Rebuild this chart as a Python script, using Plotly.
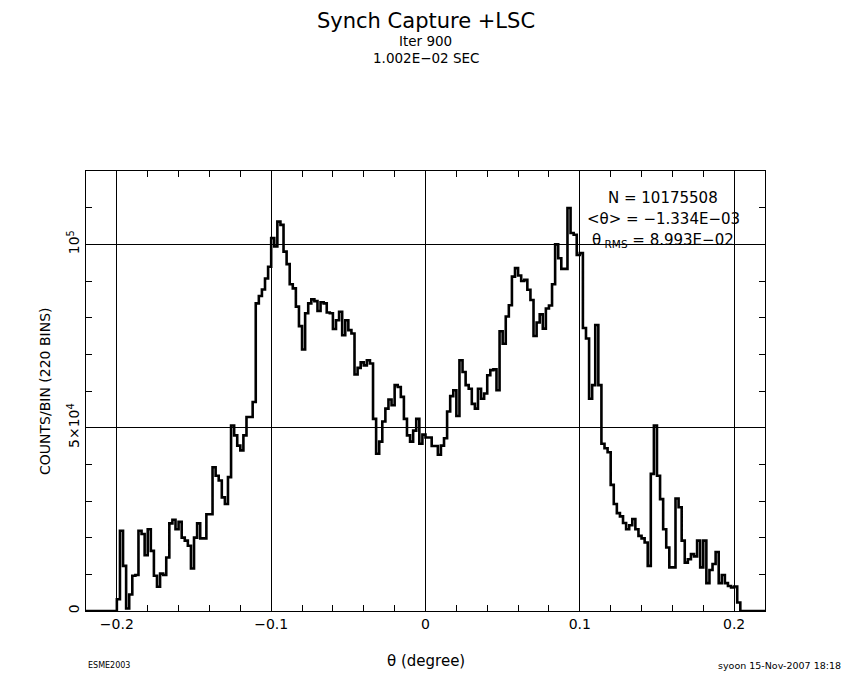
import plotly.graph_objects as go

# Histogram: 220 bins between -0.22 and 0.22 degree
theta_min = -0.22
bin_width = 0.002
counts = [
    0, 0, 0, 0, 0, 0, 0, 0, 0, 0,
    3200, 21900, 12300, 700, 4500, 9600, 9800, 21900, 21000, 15200,
    22300, 16400, 9600, 6600, 10200, 9800, 14600, 23900, 24900, 22300,
    24300, 20000, 19200, 17800, 11600, 20000, 23900, 19800, 19800, 26400,
    26400, 39200, 36900, 35600, 31000, 29200, 36500, 50600, 47900, 45100,
    43800, 47900, 52900, 52900, 57000, 83900, 85900, 87700, 90700, 93900,
    101700, 99400, 106200, 105300, 98000, 94600, 89100, 88000, 83000, 77700,
    71300, 81200, 83900, 85000, 84500, 81800, 84200, 83900, 81400, 81200,
    76900, 79300, 81600, 75200, 79300, 76600, 75700, 64500, 66300, 67800,
    67000, 68400, 67500, 52400, 42900, 46200, 51700, 55200, 57700, 56100,
    61600, 61100, 58400, 52400, 47900, 46200, 49200, 52400, 45600, 48100,
    47300, 47300, 45000, 45000, 42600, 45100, 47100, 54400, 58600, 60200,
    53200, 68400, 65200, 61600, 60600, 56500, 55200, 60600, 57900, 59300,
    64300, 65700, 65900, 60200, 76300, 72900, 80300, 83400, 91200, 93500,
    91500, 90000, 90300, 87600, 84800, 75000, 78700, 80900, 77000, 82500,
    83300, 89100, 100000, 96200, 93300, 93300, 109900, 103100, 102600, 97100,
    97600, 77200, 74300, 57900, 61600, 78000, 61600, 45600, 44400, 43300,
    34400, 29200, 26700, 25800, 24000, 22300, 23400, 25100, 22300, 20500,
    19800, 18700, 12300, 37400, 50600, 36900, 30500, 22300, 17300, 11900,
    11900, 30700, 28300, 19200, 13200, 14100, 15500, 14900, 19200, 11900,
    19200, 7600, 11200, 12800, 16100, 7600, 9800, 7600, 6800, 6400,
    6700, 2300, 0, 0, 0, 0, 0, 0, 0, 0,
]

x_ticks = [-0.2, -0.1, 0, 0.1, 0.2]
x_labels = ['\u22120.2', '\u22120.1', '0', '0.1', '0.2']
y_ticks = [0, 50000, 100000]
y_labels = ['0', '5\u00d710<sup>4</sup>', '10<sup>5</sup>']

stats = ['N = 10175508',
         '<\u03b8> = \u22121.334E\u221203',
         '\u03b8<sub> RMS</sub> = 8.993E\u221202']

fonte = 'DejaVu Sans'

# bordas dos bins (step histogram)
edges = [theta_min + bin_width * i for i in range(len(counts) + 1)]
heights = counts + [counts[-1]]

fig = go.Figure()

fig.add_trace(go.Scatter(
    x=edges,
    y=heights,
    mode='lines',
    line=dict(color='black', width=2.6, shape='hv'),
    cliponaxis=False,
    showlegend=False,
))

eixo = dict(
    showline=True, linecolor='black', linewidth=1, mirror='allticks',
    showgrid=True, gridcolor='black', gridwidth=1,
    zeroline=False,
    ticks='inside', ticklen=6, tickcolor='black',
    tickfont=dict(family=fonte, size=14, color='black'),
)

# pagina tem margem de 8px no body -> figura 842x672
fig.update_layout(
    width=842, height=672,
    paper_bgcolor='white', plot_bgcolor='white',
    margin=dict(l=78, r=85, t=163, b=69),
    font=dict(family=fonte, color='black'),
    xaxis=dict(
        eixo,
        range=[-0.22, 0.22],
        tickvals=x_ticks, ticktext=x_labels,
        minor=dict(dtick=0.02, tick0=0, ticks='inside', ticklen=6, tickcolor='black', showgrid=False),
    ),
    yaxis=dict(
        eixo,
        range=[0, 120000],
        tickvals=y_ticks, ticktext=y_labels,
        tickangle=-90,
        minor=dict(dtick=10000, tick0=0, ticks='inside', ticklen=6, tickcolor='black', showgrid=False),
    ),
)

# Textos (posicoes em pixels da janela)
textos = [
    dict(text='Synch Capture +LSC', y=21, size=21),
    dict(text='Iter 900', y=41.5, size=13.5),
    dict(text='1.002E\u221202 SEC', y=57.5, size=13.5),
]
for t in textos:
    fig.add_annotation(
        text=t['text'], xref='paper', x=0.5, yref='paper',
        y=1 + (171 - t['y']) / 440, showarrow=False, xanchor='center', yanchor='middle',
        borderpad=0, font=dict(family=fonte, size=t['size'], color='black'),
    )

for i, s in enumerate(stats):
    fig.add_annotation(
        text=s, xref='paper', x=(663 - 86) / 679, yref='paper',
        y=(611 - (198 + 21 * i)) / 440, showarrow=False, xanchor='center', yanchor='middle',
        font=dict(family=fonte, size=15, color='black'),
    )

fig.add_annotation(
    text='COUNTS/BIN (220 BINS)', xref='paper', x=(45 - 86) / 679, yref='paper', y=0.5,
    textangle=-90, showarrow=False, xanchor='center', yanchor='middle',
    font=dict(family=fonte, size=14, color='black'),
)
fig.add_annotation(
    text='\u03b8 (degree)', xref='paper', x=0.5, yref='paper', y=(611 - 661) / 440,
    showarrow=False, xanchor='center', yanchor='middle',
    font=dict(family=fonte, size=15, color='black'),
)
fig.add_annotation(
    text='ESME2003', xref='paper', x=0, yref='paper', y=(611 - 665) / 440,
    showarrow=False, xanchor='left', yanchor='middle',
    font=dict(family=fonte, size=8, color='black'),
)
fig.add_annotation(
    text='syoon 15-Nov-2007 18:18', xref='paper', x=(843 - 86) / 679, yref='paper', y=(611 - 665) / 440,
    showarrow=False, xanchor='right', yanchor='middle',
    font=dict(family=fonte, size=9.5, color='black'),
)

fig.write_html('out.html')
